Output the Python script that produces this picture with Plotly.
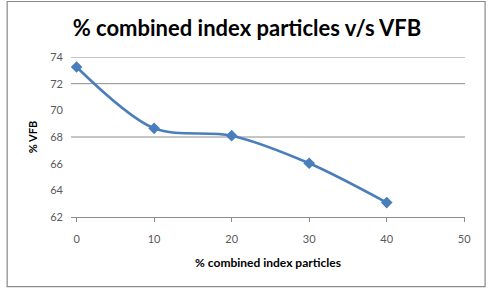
import plotly.graph_objects as go

x_vals = [0, 10, 20, 30, 40]
vfb = [73.25, 68.65, 68.1, 66.03, 63.08]
y_ticks = [62, 64, 66, 68, 70, 72, 74]
x_ticks = [0, 10, 20, 30, 40, 50]
visible_grid = [74, 72, 68]

title_text = "% combined index particles v/s VFB"
x_title = "% combined index particles"
y_title = "% VFB"

fig = go.Figure()
fig.add_trace(go.Scatter(
    x=x_vals, y=vfb, mode="lines+markers",
    line=dict(color="#4A7EBB", width=2.6, shape="spline", smoothing=0.9),
    marker=dict(symbol="diamond", size=9, color="#4A7EBB"),
    showlegend=False, hoverinfo="skip",
))

for g in visible_grid:
    fig.add_shape(type="line", xref="paper", yref="y", x0=0, x1=1, y0=g, y1=g,
                  line=dict(color="#8C8C8C", width=1), layer="below")

fig.add_shape(type="rect", xref="paper", yref="paper",
              x0=-0.162, x1=1.051, y0=-0.435, y1=1.347,
              line=dict(color="#8A8A8A", width=1.2), layer="below")

fig.update_layout(
    width=491, height=292,
    margin=dict(l=71, r=26, t=57, b=75),
    paper_bgcolor="white", plot_bgcolor="white",
    font=dict(family="Lato", color="#595959"),
    title=dict(text="<b>" + title_text + "</b>", x=247 / 491, xanchor="center",
               y=1 - 28 / 292, yanchor="middle",
               font=dict(family="Lato", size=22, color="#000000")),
)
fig.update_xaxes(
    range=[-0.72, 50.1], tickvals=x_ticks, showgrid=False,
    showline=True, linecolor="#8C8C8C", linewidth=1,
    ticks="outside", ticklen=4, tickcolor="#8C8C8C",
    tickfont=dict(size=11, color="#595959"), ticklabelstandoff=8,
    zeroline=False,
    title=dict(text="<b>" + x_title + "</b>", standoff=14,
               font=dict(size=12, color="#000000")),
)
fig.update_yaxes(
    range=[62, 74], tickvals=y_ticks, showgrid=False, zeroline=False,
    showline=False, ticks="",
    tickfont=dict(size=11, color="#595959"), ticklabelstandoff=7,
    title=dict(text="<b>" + y_title + "</b>", standoff=10,
               font=dict(size=11, color="#000000")),
)

fig.write_html("out.html")
